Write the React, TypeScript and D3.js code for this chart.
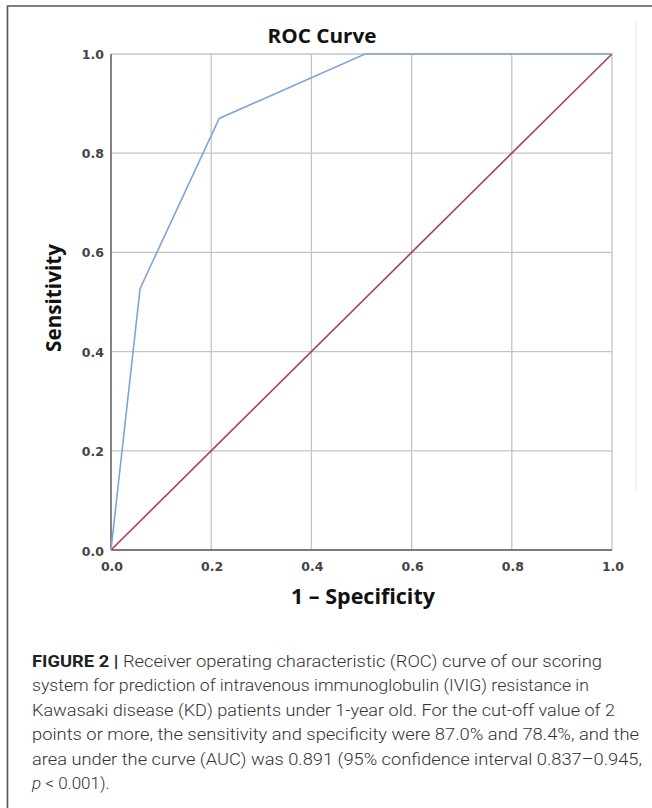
import * as d3 from 'd3';

const width = 652;
const height = 808;

// ROC points (1 - specificity, sensitivity)
const rocFpr = [0, 0.058, 0.216, 0.507, 1.0];
const rocTpr = [0, 0.527, 0.87, 1.0, 1.0];
const refFpr = [0, 1];
const refTpr = [0, 1];
const ticks = [0, 0.2, 0.4, 0.6, 0.8, 1.0];

const captionLines = [
  'Receiver operating characteristic (ROC) curve of our scoring',
  'system for prediction of intravenous immunoglobulin (IVIG) resistance in',
  'Kawasaki disease (KD) patients under 1-year old. For the cut-off value of 2',
  'points or more, the sensitivity and specificity were 87.0% and 78.4%, and the',
  'area under the curve (AUC) was 0.891 (95% confidence interval 0.837\u20130.945,',
];
const captionWidths = [570, 557, 583, 607, 610];

const plot = { left: 111, right: 612, top: 54, bottom: 550 };

export default function App() {
  const x = d3.scaleLinear().domain([0, 1]).range([plot.left, plot.right]);
  const y = d3.scaleLinear().domain([0, 1]).range([plot.bottom, plot.top]);

  const lineGen = d3
    .line<[number, number]>()
    .x((d) => x(d[0]))
    .y((d) => y(d[1]));

  const rocPath = lineGen(rocFpr.map((f, i) => [f, rocTpr[i]]));
  const refPath = lineGen(refFpr.map((f, i) => [f, refTpr[i]]));

  const tickFont = 'DejaVu Sans, sans-serif';
  const titleFont = '"Open Sans", sans-serif';
  const capFont = 'Roboto, "Liberation Sans", sans-serif';

  return (
    <svg
      width={width}
      height={height}
      style={{ position: 'absolute', left: 0, top: 0, background: '#fff' }}
    >
      <rect x={0} y={0} width={width} height={height} fill="#fff" />
      {/* frame of the figure */}
      <path d={`M7.5,${height + 5} V6 H${width + 5}`} fill="none" stroke="#555" strokeWidth={1.6} />
      {/* faint right edge of the chart image */}
      <line x1={636} x2={636} y1={22} y2={490} stroke="#f0f0f0" strokeWidth={1.5} />

      {/* grid */}
      {ticks.map((t) => (
        <line key={'gx' + t} x1={x(t)} x2={x(t)} y1={y(1)} y2={y(0)} stroke="#c4c4c4" strokeWidth={1.3} />
      ))}
      {ticks.map((t) => (
        <line key={'gy' + t} x1={x(0)} x2={x(1)} y1={y(t)} y2={y(t)} stroke="#c4c4c4" strokeWidth={1.3} />
      ))}
      {/* axes */}
      <line x1={x(0)} x2={x(0)} y1={y(1)} y2={y(0)} stroke="#7a7a7a" strokeWidth={1.8} />
      <line x1={x(0)} x2={x(1)} y1={y(0)} y2={y(0)} stroke="#7a7a7a" strokeWidth={1.8} />

      {/* series */}
      <path d={refPath || ''} fill="none" stroke="#b23a60" strokeWidth={1.6} />
      <path d={rocPath || ''} fill="none" stroke="#7ea4d8" strokeWidth={1.6} />

      {/* tick labels */}
      {ticks.map((t) => (
        <text
          key={'ty' + t}
          x={x(0) - 7}
          y={y(t) + (t === 0 ? 6 : 5)}
          textAnchor="end"
          fontFamily={tickFont}
          fontWeight="bold"
          fontSize={12.5}
          fill="#444"
        >
          {d3.format('.1f')(t)}
        </text>
      ))}
      {ticks.map((t) => (
        <text
          key={'tx' + t}
          x={x(t) + 1}
          y={y(0) + 20.5}
          textAnchor="middle"
          fontFamily={tickFont}
          fontWeight="bold"
          fontSize={12.5}
          fill="#444"
        >
          {d3.format('.1f')(t)}
        </text>
      ))}

      {/* titles */}
      <text
        x={322}
        y={43}
        textAnchor="middle"
        fontFamily={titleFont}
        fontWeight="bold"
        fontSize={20}
        fill="#111"
        textLength={109}
        lengthAdjust="spacingAndGlyphs"
      >
        ROC Curve
      </text>
      <text
        transform="translate(61,298) rotate(-90)"
        textAnchor="middle"
        fontFamily={titleFont}
        fontWeight="bold"
        fontSize={21}
        fill="#111"
        textLength={108}
        lengthAdjust="spacingAndGlyphs"
      >
        Sensitivity
      </text>
      <text
        x={363}
        y={604}
        textAnchor="middle"
        fontFamily={titleFont}
        fontWeight="bold"
        fontSize={21}
        fill="#111"
        textLength={144}
        lengthAdjust="spacingAndGlyphs"
      >
        1 {'\u2013'} Specificity
      </text>

      {/* caption */}
      <text
        x={32}
        y={667}
        fontFamily={capFont}
        fontWeight={300}
        fontSize={17}
        fill="#333"
        textLength={captionWidths[0]}
        lengthAdjust="spacingAndGlyphs"
      >
        <tspan fontWeight="bold" fill="#222">FIGURE 2 | </tspan>
        {captionLines[0]}
      </text>
      {captionLines.slice(1).map((ln, i) => (
        <text
          key={'cap' + i}
          x={32}
          y={667 + (i + 1) * 24.4}
          fontFamily={capFont}
          fontWeight={300}
          fontSize={17}
          fill="#333"
          textLength={captionWidths[i + 1]}
          lengthAdjust="spacingAndGlyphs"
        >
          {ln}
        </text>
      ))}
      <text x={32} y={667 + 5 * 24.4} fontFamily={capFont} fontWeight={300} fontSize={17} fill="#333">
        <tspan fontStyle="italic">p</tspan> {'< 0.001).'}
      </text>
    </svg>
  );
}
